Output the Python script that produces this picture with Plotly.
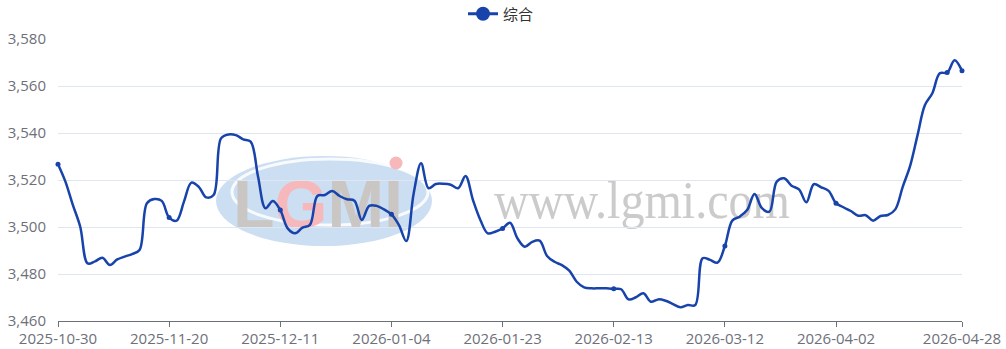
import base64
import plotly.graph_objects as go

# ---------------- data ----------------
dates = [
    "2025-10-30", "2025-10-31",
    "2025-11-03", "2025-11-04", "2025-11-05", "2025-11-06", "2025-11-07",
    "2025-11-10", "2025-11-11", "2025-11-12", "2025-11-13", "2025-11-14",
    "2025-11-17", "2025-11-18", "2025-11-19", "2025-11-20", "2025-11-21",
    "2025-11-24", "2025-11-25", "2025-11-26", "2025-11-27", "2025-11-28",
    "2025-12-01", "2025-12-02", "2025-12-03", "2025-12-04", "2025-12-05",
    "2025-12-08", "2025-12-09", "2025-12-10", "2025-12-11", "2025-12-12",
    "2025-12-15", "2025-12-16", "2025-12-17", "2025-12-18", "2025-12-19",
    "2025-12-22", "2025-12-23", "2025-12-24", "2025-12-25", "2025-12-26",
    "2025-12-29", "2025-12-30", "2025-12-31", "2026-01-04",
    "2026-01-05", "2026-01-06", "2026-01-07", "2026-01-08", "2026-01-09",
    "2026-01-12", "2026-01-13", "2026-01-14", "2026-01-15", "2026-01-16",
    "2026-01-19", "2026-01-20", "2026-01-21", "2026-01-22", "2026-01-23",
    "2026-01-26", "2026-01-27", "2026-01-28", "2026-01-29", "2026-01-30",
    "2026-02-02", "2026-02-03", "2026-02-04", "2026-02-05", "2026-02-06",
    "2026-02-09", "2026-02-10", "2026-02-11", "2026-02-12", "2026-02-13",
    "2026-02-14", "2026-02-24", "2026-02-25", "2026-02-26", "2026-02-27",
    "2026-02-28", "2026-03-02", "2026-03-03", "2026-03-04", "2026-03-05",
    "2026-03-06", "2026-03-09", "2026-03-10", "2026-03-11", "2026-03-12",
    "2026-03-13", "2026-03-16", "2026-03-17", "2026-03-18", "2026-03-19",
    "2026-03-20", "2026-03-23", "2026-03-24", "2026-03-25", "2026-03-26",
    "2026-03-27", "2026-03-30", "2026-03-31", "2026-04-01", "2026-04-02",
    "2026-04-03", "2026-04-07", "2026-04-08", "2026-04-09", "2026-04-10",
    "2026-04-13", "2026-04-14", "2026-04-15", "2026-04-16", "2026-04-17",
    "2026-04-20", "2026-04-21", "2026-04-22", "2026-04-23", "2026-04-24",
    "2026-04-27", "2026-04-28",
]

values = [
    3526.7, 3519.3, 3509.4, 3500.1, 3484.5, 3485.4, 3486.9, 3483.8, 3486.2, 3487.4,
    3488.5, 3490.2, 3510.1, 3511.9, 3511.1, 3504.0, 3502.7, 3510.8, 3518.9, 3517.1,
    3512.6, 3513.6, 3537.7, 3539.4, 3539.1, 3537.3, 3536.3, 3521.4, 3508.0, 3511.1,
    3507.2, 3499.4, 3497.3, 3499.7, 3500.9, 3513.2, 3513.6, 3515.3, 3513.2, 3511.8,
    3511.2, 3503.0, 3509.0, 3509.0, 3507.5, 3505.4, 3500.9, 3494.0, 3514.3, 3527.1,
    3516.5, 3518.3, 3518.4, 3518.0, 3516.5, 3521.7, 3511.5, 3503.0, 3497.3, 3498.0,
    3499.4, 3501.8, 3495.2, 3491.6, 3493.7, 3494.2, 3487.7, 3485.2, 3483.8, 3481.4,
    3476.7, 3474.3, 3473.9, 3473.9, 3473.9, 3473.7, 3473.5, 3469.2, 3470.1, 3471.8,
    3468.2, 3469.2, 3468.6, 3467.2, 3465.8, 3466.8, 3466.8, 3486.7, 3486.0, 3484.8,
    3491.9, 3502.7, 3504.4, 3507.2, 3514.0, 3508.0, 3506.5, 3519.3, 3520.7, 3517.6,
    3516.0, 3510.5, 3518.2, 3516.9, 3515.4, 3510.1, 3508.4, 3506.8, 3504.8, 3505.0,
    3502.7, 3504.7, 3505.1, 3507.5, 3517.1, 3526.0, 3539.1, 3551.9, 3556.9, 3565.4,
    3565.7, 3571.0, 3566.5,
]

series_name = "综合"
tick_labels = ["2025-10-30", "2025-11-20", "2025-12-11", "2026-01-04", "2026-01-23",
               "2026-02-13", "2026-03-12", "2026-04-02", "2026-04-28"]
symbol_dates = ["2025-10-30", "2025-11-20", "2025-12-11", "2026-01-04", "2026-01-23",
                "2026-02-13", "2026-03-12", "2026-04-02", "2026-04-24", "2026-04-28"]
y_ticks = [3460, 3480, 3500, 3520, 3540, 3560, 3580]

# ---------------- style ----------------
LINE = "#1743ab"
AXIS = "#6E7079"
GRID = "#E0E6F1"
FONT = "Open Sans, Noto Sans CJK SC, sans-serif"

W, H = 1006, 349
L, R, T, B = 58, 44, 39, 28
PW, PH = W - L - R, H - T - B

sym_vals = [values[dates.index(d)] for d in symbol_dates]

fig = go.Figure()
fig.add_trace(go.Scatter(
    x=dates, y=values, mode="lines", showlegend=False,
    line=dict(color=LINE, width=2.5, shape="spline", smoothing=1.0),
    hoverinfo="skip", cliponaxis=False,
))
fig.add_trace(go.Scatter(
    x=symbol_dates, y=sym_vals, mode="markers", showlegend=False,
    marker=dict(color=LINE, size=5), hoverinfo="skip", cliponaxis=False,
))
fig.add_trace(go.Scatter(
    x=[None], y=[None], mode="lines+markers", name=series_name,
    line=dict(color=LINE, width=3), marker=dict(color=LINE, size=14),
))

# watermark (background image)
svg = f'''<svg xmlns="http://www.w3.org/2000/svg" width="{W}" height="{H}" viewBox="0 0 {W} {H}">
<ellipse cx="324" cy="201" rx="108" ry="45" fill="#c6daef" opacity="0.9"/>
<ellipse cx="330" cy="192" rx="98" ry="33" fill="none" stroke="#ffffff" stroke-width="3" opacity="0.85"/>
<text x="233" y="228" font-family="Liberation Sans, Arial, sans-serif" font-weight="bold" font-size="68" fill="#c9c6c4">L<tspan fill="#f6b8bb">G</tspan>MI</text>
<circle cx="396" cy="163" r="6.5" fill="#f6b8bb"/>
<text x="494" y="218" font-family="Liberation Serif, DejaVu Serif, serif" font-size="52" fill="#cbcbcb" textLength="296" lengthAdjust="spacingAndGlyphs">www.lgmi.com</text>
</svg>'''
src = "data:image/svg+xml;base64," + base64.b64encode(svg.encode("utf-8")).decode("ascii")
fig.add_layout_image(dict(
    source=src, xref="paper", yref="paper",
    x=-L / PW, y=1 + T / PH, sizex=W / PW, sizey=H / PH,
    sizing="stretch", xanchor="left", yanchor="top", layer="below", opacity=1,
))

fig.update_layout(
    width=W, height=H, autosize=False,
    margin=dict(l=L, r=R, t=T, b=B, pad=0, autoexpand=False),
    paper_bgcolor="white", plot_bgcolor="rgba(0,0,0,0)",
    font=dict(family=FONT, color=AXIS, size=15),
    showlegend=True,
    legend=dict(orientation="h", x=0.5 - 9 / PW, xanchor="center",
                yref="container", y=1 - 14 / H, yanchor="middle",
                font=dict(size=15, color="#333333", family=FONT), bgcolor="rgba(0,0,0,0)",
                itemwidth=30),
    xaxis=dict(
        type="category", categoryorder="array", categoryarray=dates,
        range=[0, len(dates) - 1], automargin=False,
        tickmode="array", tickvals=tick_labels, ticktext=tick_labels,
        ticks="outside", ticklen=5, tickcolor=AXIS, tickwidth=1,
        showline=True, linecolor=AXIS, linewidth=1,
        showgrid=False, zeroline=False, ticklabelstandoff=-1,
        tickfont=dict(size=15, color=AXIS), tickangle=0,
    ),
    yaxis=dict(
        range=[3460, 3580], tickmode="array", tickvals=y_ticks, tickformat=",",
        automargin=False,
        showgrid=True, gridcolor=GRID, gridwidth=1, zeroline=False,
        showline=False, ticks="", ticklabelstandoff=11,
        tickfont=dict(size=15, color=AXIS),
    ),
)

fig.write_html("out.html")
